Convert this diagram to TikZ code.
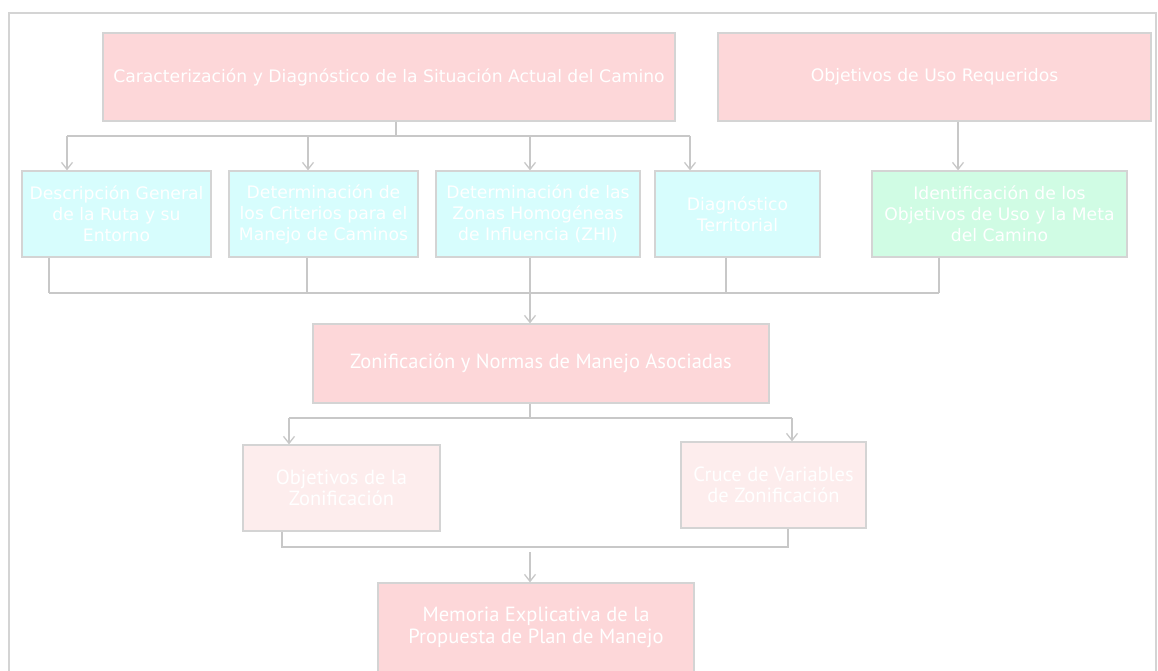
\documentclass[tikz,border=0pt]{standalone}
\usepackage{fontspec}
\setmainfont{DejaVu Sans}
\newfontfamily\zonfont{PT Sans}
\usetikzlibrary{arrows.meta}
\definecolor{rosa}{RGB}{253,215,217}
\definecolor{rosaclaro}{RGB}{253,237,237}
\definecolor{celeste}{RGB}{215,253,253}
\definecolor{verdeclaro}{RGB}{208,252,228}
\definecolor{borde}{RGB}{212,212,212}
\definecolor{linea}{RGB}{200,200,200}
\tikzset{
  caja/.style={draw=borde, line width=1.2pt, inner sep=0pt, align=center, text=white,
    font=\fontsize{17.2}{21}\selectfont},
  cajarosa/.style={caja, fill=rosa},
  cajaceleste/.style={caja, fill=celeste, minimum height=86pt},
  cajaverde/.style={caja, fill=verdeclaro, minimum height=86pt},
  cajazon/.style={caja, font=\zonfont\fontsize{20.5}{21.5}\selectfont},
  linea/.style={draw=linea, line width=1.5pt},
  flecha/.style={linea, -{Straight Barb[length=7pt,width=11pt,line width=1.3pt]}}
}
\begin{document}
\begin{tikzpicture}[x=1pt,y=-1pt]
\useasboundingbox (0,0) rectangle (1158,671);
\draw[draw=borde, line width=1.5pt] (9,13) rectangle (1156,690);

\node[cajarosa, minimum width=572pt, minimum height=88pt] (car) at (389,77)
  {Caracterización y Diagnóstico de la Situación Actual del Camino};
\node[cajarosa, minimum width=433pt, minimum height=88pt] (obj) at (934.5,77)
  {Objetivos de Uso Requeridos};

\node[cajaceleste, minimum width=189pt] (desc) at (116.5,214) {Descripción General\\de la Ruta y su\\Entorno};
\node[cajaceleste, minimum width=189pt] (crit) at (323.5,214) {Determinación de\\los Criterios para el\\Manejo de Caminos};
\node[cajaceleste, minimum width=204pt] (zhi) at (538,214) {Determinación de las\\Zonas Homogéneas\\de Influencia (ZHI)};
\node[cajaceleste, minimum width=165pt] (diag) at (737.5,214) {Diagnóstico\\Territorial};
\node[cajaverde, minimum width=255pt] (meta) at (999.5,214) {Identificación de los\\Objetivos de Uso y la Meta\\del Camino};

\node[cajazon, fill=rosa, minimum width=456pt, minimum height=79pt] (zon) at (541,363.5)
  {Zonificación y Normas de Manejo Asociadas};
\node[cajazon, fill=rosaclaro, minimum width=197pt, minimum height=86pt] (objz) at (341.5,488)
  {Objetivos de la\\Zonificación};
\node[cajazon, fill=rosaclaro, minimum width=185pt, minimum height=86pt] (cruce) at (773.5,485)
  {Cruce de Variables\\de Zonificación};
\node[cajazon, fill=rosa, minimum width=316pt, minimum height=89pt] (mem) at (536,627.5)
  {Memoria Explicativa de la\\Propuesta de Plan de Manejo};

\coordinate (bus1) at (396,136);
\coordinate (bus2) at (530,293);
\coordinate (bus3) at (530,418);
\coordinate (bus4) at (530,547);
\coordinate (ini4) at (530,552);

\draw[linea] (car.south -| bus1) -- (bus1);
\draw[linea] (67,136) -- (690,136);
\foreach \n/\x in {desc/67, crit/308, zhi/530, diag/690}
  \draw[flecha] (\x,136) -- (\n.north -| \x,0);
\draw[flecha] (obj.south -| 958,0) -- (meta.north -| 958,0);

\foreach \n/\x in {desc/49, crit/307, zhi/530, diag/726, meta/939}
  \draw[linea] (\n.south -| \x,0) -- (\x,293);
\draw[linea] (49,293) -- (939,293);
\draw[flecha] (bus2) -- (zon.north -| bus2);

\draw[linea] (zon.south -| bus3) -- (bus3);
\draw[linea] (289,418) -- (792,418);
\draw[flecha] (289,418) -- (objz.north -| 289,0);
\draw[flecha] (792,418) -- (cruce.north -| 792,0);

\draw[linea] (objz.south -| 282,0) |- (bus4) -| (cruce.south -| 788,0);
\draw[flecha] (ini4) -- (mem.north -| ini4);
\end{tikzpicture}
\end{document}
